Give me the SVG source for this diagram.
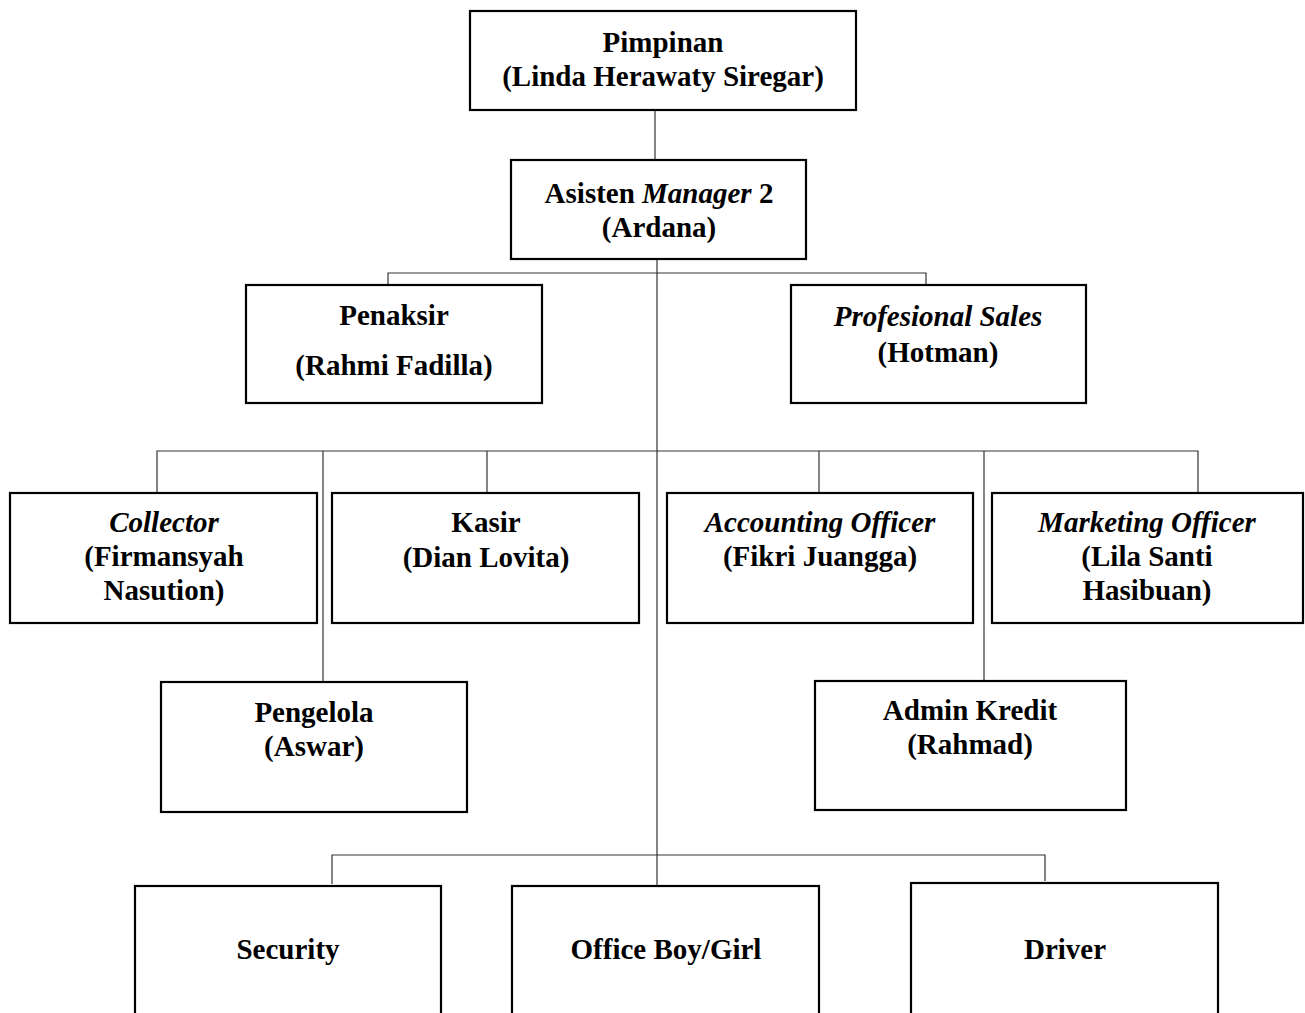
<svg xmlns="http://www.w3.org/2000/svg" width="1305" height="1013" viewBox="0 0 1305 1013">
<style>
.box{fill:#fff;stroke:#000;stroke-width:2.2}
.c{stroke:#333;stroke-width:1.2;fill:none}
text{font-family:"Liberation Serif","Times New Roman",serif;font-weight:bold;font-size:29px;text-anchor:middle;fill:#000}
.i{font-style:italic}
</style>
<rect width="1305" height="1013" fill="#fff"/>
<g id="connectors">
<line class="c" x1="655" y1="110" x2="655" y2="160"/>
<line class="c" x1="657" y1="259" x2="657" y2="886"/>
<polyline class="c" points="388,285 388,273 926,273 926,285"/>
<polyline class="c" points="157,493 157,451 1198,451 1198,493"/>
<line class="c" x1="487" y1="451" x2="487" y2="493"/>
<line class="c" x1="819" y1="451" x2="819" y2="493"/>
<line class="c" x1="323" y1="451" x2="323" y2="682"/>
<line class="c" x1="984" y1="451" x2="984" y2="681"/>
<polyline class="c" points="332,884 332,855 1045,855 1045,881"/>
</g>
<g id="pimpinan"><rect class="box" x="470" y="11" width="386" height="99"/><text x="663" y="52">Pimpinan</text><text x="663" y="86">(Linda Herawaty Siregar)</text></g>
<g id="asisten"><rect class="box" x="511" y="160" width="295" height="99"/><text x="659" y="203">Asisten <tspan class="i">Manager</tspan> 2</text><text x="659" y="237">(Ardana)</text></g>
<g id="penaksir"><rect class="box" x="246" y="285" width="296" height="118"/><text x="394" y="325">Penaksir</text><text x="394" y="375">(Rahmi Fadilla)</text></g>
<g id="sales"><rect class="box" x="791" y="285" width="295" height="118"/><text x="938" y="326" class="i">Profesional Sales</text><text x="938" y="362">(Hotman)</text></g>
<g id="collector"><rect class="box" x="10" y="493" width="307" height="130"/><text x="164" y="532" class="i">Collector</text><text x="164" y="566">(Firmansyah</text><text x="164" y="600">Nasution)</text></g>
<g id="kasir"><rect class="box" x="332" y="493" width="307" height="130"/><text x="486" y="532">Kasir</text><text x="486" y="567">(Dian Lovita)</text></g>
<g id="accounting"><rect class="box" x="667" y="493" width="306" height="130"/><text x="820" y="532" class="i">Accounting Officer</text><text x="820" y="566">(Fikri Juangga)</text></g>
<g id="marketing"><rect class="box" x="992" y="493" width="311" height="130"/><text x="1147" y="532" class="i">Marketing Officer</text><text x="1147" y="566">(Lila Santi</text><text x="1147" y="600">Hasibuan)</text></g>
<g id="pengelola"><rect class="box" x="161" y="682" width="306" height="130"/><text x="314" y="722">Pengelola</text><text x="314" y="756">(Aswar)</text></g>
<g id="admin"><rect class="box" x="815" y="681" width="311" height="129"/><text x="970" y="720">Admin Kredit</text><text x="970" y="754">(Rahmad)</text></g>
<g id="security"><rect class="box" x="135" y="886" width="306" height="140"/><text x="288" y="959">Security</text></g>
<g id="officeboy"><rect class="box" x="512" y="886" width="307" height="140"/><text x="666" y="959">Office Boy/Girl</text></g>
<g id="driver"><rect class="box" x="911" y="883" width="307" height="143"/><text x="1065" y="959">Driver</text></g>
</svg>
